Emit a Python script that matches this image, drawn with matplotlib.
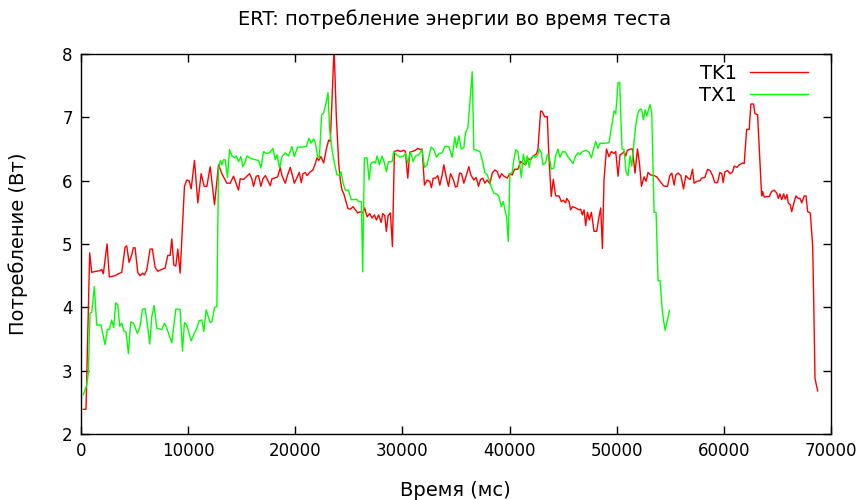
import matplotlib
matplotlib.use("Agg")
import matplotlib.pyplot as plt

plt.rcParams['font.family'] = ['DejaVu Sans']

# TK1 (ms, W)
tk1_t = [215, 467, 810, 1000, 1150, 1776, 1930, 2085, 2430, 2645, 3178, 3490, 3800, 4112, 4270,
         4486, 4735, 4891, 5047, 5296, 5514, 5763, 5920, 6137, 6449, 6667, 6916, 7165, 7540, 7850,
         8100, 8318, 8474, 8660, 8847, 9034, 9252, 9657, 9875, 10090, 10280, 10592, 10903, 11215,
         11495, 11745, 12056, 12461, 12834, 13150, 13614, 13925, 14237, 14700, 14860, 15170, 15485,
         15730, 15950, 16100, 16355, 16570, 16790, 16980, 17200, 17355, 17665, 17820, 18040, 18350,
         18600, 18755, 19065, 19225, 19530, 19690, 19910, 20160, 20370, 20560, 20720, 20935, 21095,
         21340, 21650, 21870, 22025, 22180, 22400, 22645, 22900, 23115, 23270, 23430, 23620, 23830,
         24050, 24200, 24360, 24515, 24735, 24920, 25140, 25390, 25610, 25825, 26075, 26325, 26480,
         26700, 26945, 27170, 27385, 27570, 27785, 28010, 28160, 28350, 28500, 28665, 28880, 29065,
         29250, 29560, 29810, 30120, 30280, 30500, 30680, 30905, 31215, 31430, 31680, 31840, 32055,
         32305, 32550, 32710, 32870, 33085, 33300, 33490, 33710, 33860, 34110, 34300, 34490, 34740,
         34955, 35110, 35330, 35515, 35730, 35955, 36200, 36385, 36665, 36890, 37100, 37290, 37505,
         37690, 37915, 38160, 38385, 38630, 38850, 39065, 39255, 39470, 39785, 40000, 40250, 40470,
         40775, 41030, 41280, 41495, 41710, 41960, 42215, 42495, 42645, 42900, 43055, 43270, 43520,
         43670, 43890, 44080, 44300, 44610, 44830, 45020, 45235, 45330, 45545, 45700, 45860, 46170,
         46480, 46640, 46795, 46950, 47105, 47265, 47450, 47635, 47880, 48130, 48350, 48505, 48665,
         48815, 49040, 49280, 49505, 49750, 49910, 50125, 50310, 50535, 50685, 50840, 51000, 51310,
         51465, 51710, 51935, 52120, 52310, 52550, 52740, 52925, 53180, 53490, 53740, 53955, 54180,
         54365, 54580, 54740, 54955, 55140, 55360, 55515, 55730, 55985, 56235, 56450, 56665, 56850,
         57075, 57225, 57480, 57790, 57915, 58225, 58480, 58720, 58945, 59160, 59410, 59630, 59815,
         59935, 60095, 60345, 60590, 60815, 60965, 61215, 61430, 61750, 61900, 62125, 62365, 62525,
         62775, 62900, 63150, 63365, 63525, 63620, 63770, 63990, 64240, 64460, 64705, 64955, 65080,
         65235, 65395, 65580, 65730, 65890, 66010, 66200, 66330, 66570, 66730, 66945, 67105, 67265,
         67505, 67665, 67825, 68070, 68290, 68385, 68505, 68600, 68760]
tk1_w = [2.39, 2.39, 4.86, 4.55, 4.56, 4.58, 4.60, 4.53, 5.00, 4.48, 4.50, 4.53, 4.55, 4.95, 4.97,
         4.71, 4.83, 4.94, 4.94, 4.55, 4.50, 4.54, 4.51, 4.59, 4.92, 4.92, 4.63, 4.57, 4.60, 4.62,
         4.82, 4.82, 5.08, 4.67, 4.65, 4.92, 4.54, 5.91, 6.01, 6.00, 5.87, 6.32, 5.65, 6.11,
         5.91, 5.91, 6.22, 5.62, 6.25, 6.11, 5.96, 5.96, 6.07, 5.85, 6.03, 6.02, 6.07,
         6.11, 6.03, 5.91, 6.07, 6.08, 5.91, 6.03, 6.08, 6.03, 5.92, 6.03, 6.04, 6.06,
         6.21, 6.08, 5.96, 6.06, 6.21, 6.11, 5.96, 6.05, 6.13, 5.97, 6.11, 6.13, 6.08,
         6.13, 6.17, 6.27, 6.36, 6.32, 6.38, 6.28, 6.50, 6.64, 6.62, 7.28, 8.10, 7.01,
         6.28, 6.01, 5.85, 5.80, 5.67, 5.56, 5.55, 5.59, 5.54, 5.49, 5.51, 5.49, 5.57,
         5.43, 5.48, 5.41, 5.46, 5.38, 5.46, 5.34, 5.48, 5.45, 5.20, 5.45, 5.49, 4.96,
         6.46, 6.48, 6.46, 6.48, 6.46, 6.04, 6.45, 6.46, 6.48, 6.51, 6.49, 6.50, 5.93,
         6.01, 5.99, 5.89, 6.04, 6.04, 6.08, 5.93, 6.09, 6.25, 6.04, 5.91, 6.11, 6.02,
         5.90, 5.91, 6.12, 6.11, 5.96, 6.08, 6.22, 6.09, 6.01, 6.05, 5.91, 6.02, 6.04,
         5.96, 6.01, 5.95, 6.12, 6.17, 6.14, 6.04, 6.11, 6.07, 6.04, 6.11, 6.09, 6.18,
         6.18, 6.30, 6.27, 6.25, 6.35, 6.33, 6.39, 6.42, 6.49, 7.10, 7.09, 7.01, 7.01,
         6.38, 5.75, 6.02, 5.76, 5.76, 5.67, 5.69, 5.65, 5.72, 5.67, 5.54, 5.59, 5.57,
         5.54, 5.55, 5.46, 5.54, 5.29, 5.50, 5.38, 5.50, 5.20, 5.20, 5.43, 5.57, 4.93,
         6.01, 6.50, 6.38, 6.46, 6.43, 6.46, 6.07, 6.41, 6.43, 6.46, 6.39, 6.48, 6.50,
         6.50, 6.12, 6.50, 6.28, 5.91, 6.06, 5.99, 6.13, 6.09, 6.08, 6.06, 6.01, 5.96,
         5.92, 5.91, 5.91, 6.08, 6.12, 5.93, 6.09, 6.12, 6.08, 5.87, 6.08, 6.04, 6.02,
         6.18, 5.96, 5.99, 6.00, 6.04, 6.05, 6.18, 6.16, 6.08, 5.97, 5.97, 6.13, 6.11,
         5.97, 6.14, 6.16, 6.11, 6.14, 6.23, 6.21, 6.25, 6.28, 6.27, 6.81, 6.81, 7.21,
         7.21, 7.06, 7.04, 6.30, 5.76, 5.83, 5.74, 5.75, 5.75, 5.83, 5.85, 5.80, 5.72,
         5.79, 5.70, 5.79, 5.71, 5.78, 5.65, 5.62, 5.51, 5.67, 5.76, 5.72, 5.72, 5.65,
         5.76, 5.76, 5.51, 5.49, 4.96, 4.12, 2.88, 2.80, 2.68]

# TX1 (ms, W)
tx1_t = [215, 530, 685, 841, 1000, 1246, 1465, 1870, 2243, 2460, 2645, 2866, 3055, 3240, 3430,
         3615, 3800, 4020, 4205, 4424, 4642, 4891, 5265, 5514, 5732, 5980, 6137, 6417, 6605, 6822,
         7070, 7540, 7790, 8010, 8474, 8847, 9252, 9470, 9657, 9875, 10280, 10495, 10810, 11028,
         11280, 11464, 11682, 12056, 12215, 12461, 12680, 12834, 13020, 13150, 13300, 13460, 13675,
         13860, 14085, 14390, 14485, 14700, 14925, 15110, 15330, 15485, 15860, 16260, 16570, 16790,
         17040, 17290, 17600, 17915, 18130, 18290, 18535, 18755, 19065, 19375, 19690, 19910, 20215,
         20625, 21030, 21280, 21465, 21710, 21870, 22085, 22245, 22460, 22645, 22900, 23055, 23210,
         23430, 23645, 23895, 24110, 24270, 24460, 24675, 24980, 25205, 25450, 25700, 25915, 26170,
         26290, 26450, 26700, 26890, 27075, 27320, 27480, 27635, 27850, 28105, 28320, 28505, 28690,
         29040, 29190, 29440, 29810, 30120, 30280, 30500, 30750, 31000, 31215, 31525, 31840, 32055,
         32305, 32680, 32925, 33180, 33430, 33710, 33955, 34330, 34645, 34890, 35050, 35265, 35490,
         35730, 35890, 36105, 36290, 36515, 36665, 36915, 37225, 37450, 37690, 37915, 38105, 38290,
         38535, 38785, 39000, 39225, 39410, 39560, 39720, 39880, 40030, 40250, 40400, 40590, 40775,
         40905, 41095, 41280, 41470, 41655, 41840, 41965, 42215, 42430, 42645, 42775, 42965, 43110,
         43365, 43520, 43710, 43900, 44140, 44300, 44515, 44700, 44955, 45235, 45450, 45920, 46170,
         46385, 46570, 46795, 47105, 47415, 47635, 47825, 48040, 48255, 48440, 48815, 49280, 49600,
         49750, 49910, 50125, 50280, 50375, 50500, 50685, 50870, 51060, 51245, 51405, 51560, 51780,
         51935, 52120, 52310, 52495, 52650, 52805, 52965, 53115, 53270, 53490, 53675, 53860, 54050,
         54270, 54515, 54740, 54925]
tx1_w = [2.62, 2.77, 2.96, 3.91, 3.92, 4.33, 3.72, 3.72, 3.41, 3.65, 3.65, 3.80, 3.68, 4.07, 4.04,
         3.70, 3.75, 3.62, 3.61, 3.27, 3.77, 3.75, 3.59, 3.70, 3.97, 3.98, 3.80, 3.42, 3.85, 4.03,
         3.67, 3.65, 3.75, 3.67, 3.44, 3.97, 3.97, 3.31, 3.76, 3.72, 3.47, 3.56, 3.67, 3.79,
         3.80, 3.62, 3.96, 3.76, 3.77, 4.00, 4.01, 6.20, 6.32, 6.25, 6.33, 6.33, 6.05,
         6.49, 6.39, 6.36, 6.39, 6.30, 6.38, 6.22, 6.30, 6.39, 6.35, 6.33, 6.32, 6.20,
         6.46, 6.43, 6.44, 6.51, 6.33, 6.41, 6.20, 6.38, 6.44, 6.39, 6.54, 6.38, 6.53,
         6.53, 6.54, 6.67, 6.59, 6.66, 6.60, 6.38, 6.36, 7.04, 7.07, 7.25, 7.39, 6.80,
         6.49, 6.28, 6.09, 6.09, 6.14, 5.96, 5.85, 5.85, 5.70, 5.70, 5.71, 5.67, 5.67,
         4.56, 6.36, 6.36, 6.01, 6.28, 6.30, 6.28, 6.39, 6.25, 6.39, 6.28, 6.14, 6.30,
         6.30, 6.46, 6.41, 6.37, 6.39, 6.43, 6.28, 6.46, 6.30, 6.39, 6.41, 6.49, 6.21,
         6.25, 6.53, 6.49, 6.37, 6.43, 6.44, 6.54, 6.54, 6.37, 6.69, 6.52, 6.71, 6.50,
         6.52, 6.76, 6.83, 7.22, 7.72, 6.49, 6.48, 6.46, 6.33, 6.13, 6.09, 6.01, 5.90,
         5.80, 5.79, 5.75, 5.59, 5.67, 5.54, 5.43, 5.04, 6.11, 6.13, 6.33, 6.49, 6.46,
         6.30, 6.05, 6.42, 6.25, 6.39, 6.21, 6.35, 6.39, 6.37, 6.41, 6.50, 6.44, 6.25,
         6.28, 6.41, 6.38, 6.18, 6.20, 6.39, 6.50, 6.37, 6.46, 6.45, 6.38, 6.27, 6.39,
         6.44, 6.41, 6.46, 6.48, 6.45, 6.36, 6.49, 6.62, 6.51, 6.59, 6.59, 6.60, 6.93,
         7.10, 7.06, 7.55, 7.55, 7.04, 6.50, 6.49, 6.14, 6.08, 6.39, 6.23, 6.51, 6.88,
         7.04, 7.12, 7.13, 6.96, 7.12, 7.02, 7.12, 7.20, 7.07, 5.50, 5.50, 4.42, 4.42,
         3.91, 3.64, 3.80, 3.95]

fig = plt.figure(figsize=(8.66, 5.0), dpi=100)
ax = fig.add_axes([81 / 866, 1 - 434 / 500, 750 / 866, 380 / 500])

ax.plot(tk1_t, tk1_w, color='#ff0000', lw=1.0, label='TK1')
ax.plot(tx1_t, tx1_w, color='#00ff00', lw=1.0, label='TX1')

ax.set_xlim(0, 70000)
ax.set_ylim(2, 8)
ax.set_xticks(range(0, 70001, 10000))
ax.set_yticks(range(2, 9))
ax.tick_params(direction='in', top=True, right=True, length=6, width=1, labelsize=12, pad=6)
for s in ax.spines.values():
    s.set_linewidth(1.0)

# подписи осей и заголовок
fig.text(455 / 866, 1 - 490 / 500, 'Время (мс)', ha='center', va='center', fontsize=14)
fig.text(18 / 866, 1 - 244 / 500, 'Потребление (Вт)', ha='center', va='center',
         rotation=90, fontsize=14)
fig.text(455 / 866, 1 - 19 / 500, 'ERT: потребление энергии во время теста',
         ha='center', va='center', fontsize=14)

ax.legend(loc='upper right', bbox_to_anchor=(808 / 866, 1 - 64 / 500),
          bbox_transform=fig.transFigure, frameon=False, markerfirst=False,
          fontsize=14, handlelength=3.0, handletextpad=0.65, labelspacing=0.15,
          borderpad=0, borderaxespad=0)

fig.savefig('out.png', dpi=100)
